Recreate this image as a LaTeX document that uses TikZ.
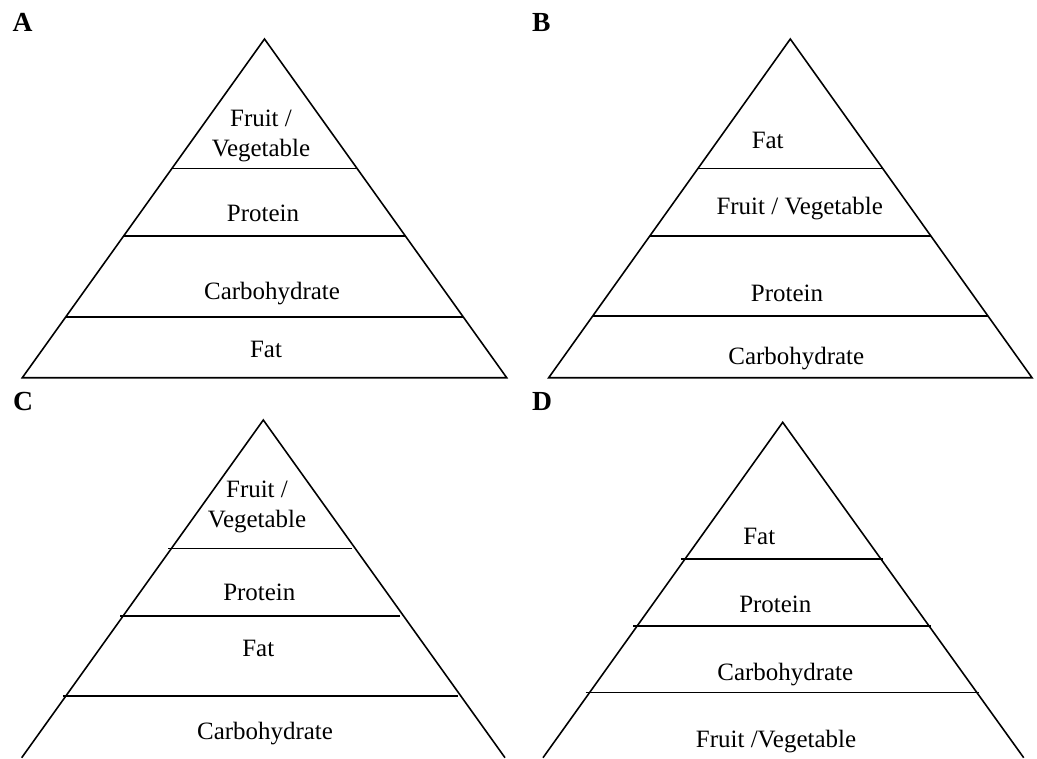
\documentclass[tikz,border=0pt]{standalone}
\usepackage{fontspec}
\setmainfont{Liberation Serif}
\usepackage{tikz}
\usetikzlibrary{calc}
\tikzstyle{side} = [draw, line width=0.9pt]
\tikzstyle{tier} = [draw, line width=0.9pt]
\tikzstyle{food} = [anchor=base, inner sep=0pt, align=center, font=\fontsize{14.2}{17}\selectfont]
\tikzstyle{panel} = [anchor=base, inner sep=0pt, font=\fontsize{15.7}{18}\selectfont\bfseries]
\begin{document}
\begin{tikzpicture}[x=0.02cm, y=-0.02cm]
\useasboundingbox (0,0) rectangle (1037,758);

\coordinate (aTop) at (264.5,39);
\coordinate (aLeft) at (22.3,377.7);
\coordinate (aRight) at (506.7,377.7);
\path [side] (aLeft) -- (aTop) -- (aRight) -- cycle;
\foreach \t in {0.382,0.581,0.820}
  \path [tier] ($(aTop)!\t!(aLeft)$) -- ($(aTop)!\t!(aRight)$);
\node [panel] (aTag) at (22.7,31.7) {A};
\node [food, anchor=center] (aFruit) at (261,136) {Fruit /\\Vegetable};
\node [food] (aProtein) at (263,221) {Protein};
\node [food] (aCarb) at (272,299) {Carbohydrate};
\node [food] (aFat) at (266,357) {Fat};

\coordinate (bTop) at (790.3,39);
\coordinate (bLeft) at (548.7,377.7);
\coordinate (bRight) at (1032,377.7);
\path [side] (bLeft) -- (bTop) -- (bRight) -- cycle;
\foreach \t in {0.382,0.581,0.818}
  \path [tier] ($(bTop)!\t!(bLeft)$) -- ($(bTop)!\t!(bRight)$);
\node [panel] (bTag) at (541.2,31.7) {B};
\node [food] (bFat) at (767.7,148) {Fat};
\node [food] (bFruit) at (799.7,214) {Fruit / Vegetable};
\node [food] (bProtein) at (787,301) {Protein};
\node [food] (bCarb) at (796.3,364) {Carbohydrate};

\coordinate (cTop) at (263.3,420);
\coordinate (cLeft) at (21.7,757.7);
\coordinate (cRight) at (505,757.7);
\path [side] (cLeft) -- (cTop) -- (cRight);
\foreach \t in {0.380,0.580,0.817}
  \path [tier] ($(cTop)!\t!(cLeft)+(-3,0)$) -- ($(cTop)!\t!(cRight)+(-3,0)$);
\node [panel] (cTag) at (23,410.7) {C};
\node [food, anchor=center] (cFruit) at (257,506.5) {Fruit /\\Vegetable};
\node [food] (cProtein) at (259.3,600.7) {Protein};
\node [food] (cFat) at (258.3,656.3) {Fat};
\node [food] (cCarb) at (265,739.7) {Carbohydrate};

\coordinate (dTop) at (782.7,422.3);
\coordinate (dLeft) at (543,757.7);
\coordinate (dRight) at (1023.7,757.7);
\path [side] (dLeft) -- (dTop) -- (dRight);
\foreach \t in {0.408,0.607,0.806}
  \path [tier] ($(dTop)!\t!(dLeft)+(-4,0)$) -- ($(dTop)!\t!(dRight)+(2,0)$);
\node [panel] (dTag) at (542,410.7) {D};
\node [food] (dFat) at (759.3,544.7) {Fat};
\node [food] (dProtein) at (775.3,612) {Protein};
\node [food] (dCarb) at (785.3,680.3) {Carbohydrate};
\node [food] (dFruit) at (776,747.3) {Fruit /Vegetable};

\end{tikzpicture}
\end{document}
